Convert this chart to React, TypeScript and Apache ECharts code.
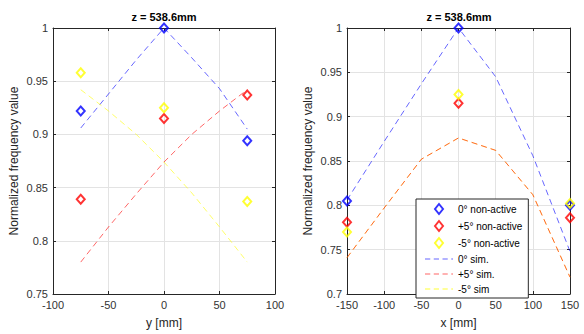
import React, { useEffect, useRef } from "react";
import * as echarts from "echarts";

// ---- Left panel (y scan) ----
const leftX = [-75, 0, 75];
const leftBlueMarkers = [0.922, 1.0, 0.894];
const leftRedMarkers = [0.839, 0.915, 0.937];
const leftYellowMarkers = [0.958, 0.925, 0.837];
const leftSimX = [-75, -50, -25, 0, 25, 50, 75];
const leftBlueSim = [0.906, 0.938, 0.970, 1.0, 0.972, 0.943, 0.905];
const leftRedSim = [0.780, 0.813, 0.844, 0.874, 0.900, 0.922, 0.942];
const leftYellowSim = [0.942, 0.922, 0.900, 0.874, 0.845, 0.813, 0.780];

// ---- Right panel (x scan) ----
const rightX = [-150, 0, 150];
const rightBlueMarkers = [0.805, 1.0, 0.8];
const rightRedMarkers = [0.781, 0.915, 0.786];
const rightYellowMarkers = [0.77, 0.925, 0.802];
const rightSimX = [-150, -100, -50, 0, 50, 100, 150];
const rightBlueSim = [0.806, 0.872, 0.937, 1.0, 0.945, 0.856, 0.748];
const rightRedSim = [0.741, 0.797, 0.852, 0.876, 0.862, 0.812, 0.719];
const rightYellowSim = [0.741, 0.797, 0.852, 0.876, 0.862, 0.812, 0.719];

const titleText = "z = 538.6mm";
const yName = "Normalized frequency value";
const leftXName = "y [mm]";
const rightXName = "x [mm]";
const names = {
  b: "0° non-active",
  r: "+5° non-active",
  y: "-5° non-active",
  bs: "0° sim.",
  rs: "+5° sim.",
  ys: "-5° sim",
};

const FONT = "Liberation Sans, Arial, Helvetica, sans-serif";
const AX = "#262626";
const DIAMOND_ICON = "path://M4,0L8,5L4,10L0,5Z";
const DASH_ICON = "path://M0,0h6v1h-6zM10,0h6v1h-6zM20,0h6v1h-6zM30,0h2v1h-2z";

const pair = (xs: number[], ys: number[]) => xs.map((x, i) => [x, ys[i]]);

function xMain(grid: number, min: number, max: number, name: string) {
  return {
    type: "value", gridIndex: grid, min, max, interval: 50, position: "bottom",
    name, nameLocation: "middle", nameGap: 23,
    nameTextStyle: { fontSize: 12, color: AX, fontFamily: FONT },
    axisLine: { show: true, onZero: false, lineStyle: { color: AX, width: 1 } },
    axisTick: { show: true, inside: true, length: 3, lineStyle: { color: AX } },
    axisLabel: { fontSize: 11, color: "#333", margin: 5, fontFamily: FONT },
    splitLine: { show: true, lineStyle: { color: "#e3e3e3" } },
  };
}
function xTop(grid: number, min: number, max: number) {
  return {
    type: "value", gridIndex: grid, min, max, interval: 50, position: "top",
    axisLine: { show: true, onZero: false, lineStyle: { color: AX, width: 1 } },
    axisTick: { show: true, inside: true, length: 3, lineStyle: { color: AX } },
    axisLabel: { show: false }, splitLine: { show: false },
  };
}
function yMain(grid: number, min: number, max: number) {
  return {
    type: "value", gridIndex: grid, min, max, interval: 0.05, position: "left",
    name: yName, nameLocation: "middle", nameGap: 33,
    nameTextStyle: { fontSize: 12, color: AX, fontFamily: FONT },
    axisLine: { show: true, onZero: false, lineStyle: { color: AX, width: 1 } },
    axisTick: { show: true, inside: true, length: 3, lineStyle: { color: AX } },
    axisLabel: {
      fontSize: 11, color: "#333", margin: 5, fontFamily: FONT,
      formatter: (v: number) => String(Math.round(v * 100) / 100),
    },
    splitLine: { show: true, lineStyle: { color: "#e3e3e3" } },
  };
}
function yRight(grid: number, min: number, max: number) {
  return {
    type: "value", gridIndex: grid, min, max, interval: 0.05, position: "right",
    axisLine: { show: true, onZero: false, lineStyle: { color: AX, width: 1 } },
    axisTick: { show: true, inside: true, length: 3, lineStyle: { color: AX } },
    axisLabel: { show: false }, splitLine: { show: false },
  };
}

function markers(name: string, color: string, data: number[][], axis: number) {
  return {
    type: "scatter", name, xAxisIndex: axis, yAxisIndex: axis, data,
    symbol: "diamond", symbolSize: [8, 9], z: 5,
    itemStyle: { color: "rgba(255,255,255,0)", borderColor: color, borderWidth: 2 },
  };
}
function simLine(name: string, color: string, data: number[][], axis: number) {
  return {
    type: "line", name, xAxisIndex: axis, yAxisIndex: axis, data,
    symbol: "none", z: 3,
    itemStyle: { color, opacity: 0.6 },
    lineStyle: { color, width: 1, type: [6, 4], opacity: 0.6 },
  };
}

export default function App() {
  const ref = useRef<HTMLDivElement>(null);
  useEffect(() => {
    document.body.style.margin = "0";
    const chart = echarts.init(ref.current!, null, { renderer: "svg" });
    const option: any = {
      animation: false,
      backgroundColor: "#ffffff",
      textStyle: { fontFamily: FONT },
      grid: [
        { left: 53, top: 28, width: 222, height: 273 },
        { left: 347, top: 28, width: 223, height: 273 },
      ],
      xAxis: [
        xMain(0, -100, 100, leftXName),
        xTop(0, -100, 100),
        xMain(1, -150, 150, rightXName),
        xTop(1, -150, 150),
      ],
      yAxis: [
        yMain(0, 0.75, 1),
        yRight(0, 0.75, 1),
        yMain(1, 0.7, 1),
        yRight(1, 0.7, 1),
      ],
      graphic: [
        {
          type: "text", x: 164, y: 17,
          style: { text: titleText, fontSize: 11, fontWeight: "bold", fontFamily: FONT, fill: "#000", align: "center", verticalAlign: "middle" },
        },
        {
          type: "text", x: 459, y: 17,
          style: { text: titleText, fontSize: 11, fontWeight: "bold", fontFamily: FONT, fill: "#000", align: "center", verticalAlign: "middle" },
        },
      ],
      legend: {
        orient: "vertical",
        left: 416, top: 199,
        padding: [4, 6, 4, 9],
        itemGap: 5,
        itemWidth: 28, itemHeight: 10,
        symbolKeepAspect: true,
        backgroundColor: "#fff",
        borderColor: AX, borderWidth: 1, borderRadius: 0,
        textStyle: { fontSize: 10, color: "#000", fontFamily: FONT },
        data: [
          { name: names.b, icon: DIAMOND_ICON },
          { name: names.r, icon: DIAMOND_ICON },
          { name: names.y, icon: DIAMOND_ICON },
          { name: names.bs, icon: DASH_ICON, itemStyle: { color: "#0000ff", opacity: 0.6, borderWidth: 0 } },
          { name: names.rs, icon: DASH_ICON, itemStyle: { color: "#ff0000", opacity: 0.6, borderWidth: 0 } },
          { name: names.ys, icon: DASH_ICON, itemStyle: { color: "#ffff00", opacity: 0.8, borderWidth: 0 } },
        ],
      },
      series: [
        // left panel
        simLine(names.bs, "#0000ff", pair(leftSimX, leftBlueSim), 0),
        simLine(names.rs, "#ff0000", pair(leftSimX, leftRedSim), 0),
        simLine(names.ys, "#ffff00", pair(leftSimX, leftYellowSim), 0),
        markers(names.b, "#0000ff", pair(leftX, leftBlueMarkers), 0),
        markers(names.r, "#ff0000", pair(leftX, leftRedMarkers), 0),
        markers(names.y, "#ffff00", pair(leftX, leftYellowMarkers), 0),
        // right panel
        simLine(names.bs, "#0000ff", pair(rightSimX, rightBlueSim), 2),
        simLine(names.ys, "#ffff00", pair(rightSimX, rightYellowSim), 2),
        simLine(names.rs, "#ff0000", pair(rightSimX, rightRedSim), 2),
        markers(names.b, "#0000ff", pair(rightX, rightBlueMarkers), 2),
        markers(names.r, "#ff0000", pair(rightX, rightRedMarkers), 2),
        markers(names.y, "#ffff00", pair(rightX, rightYellowMarkers), 2),
      ],
    };
    chart.setOption(option);
    return () => chart.dispose();
  }, []);
  return <div ref={ref} style={{ width: 584, height: 334 }} />;
}
